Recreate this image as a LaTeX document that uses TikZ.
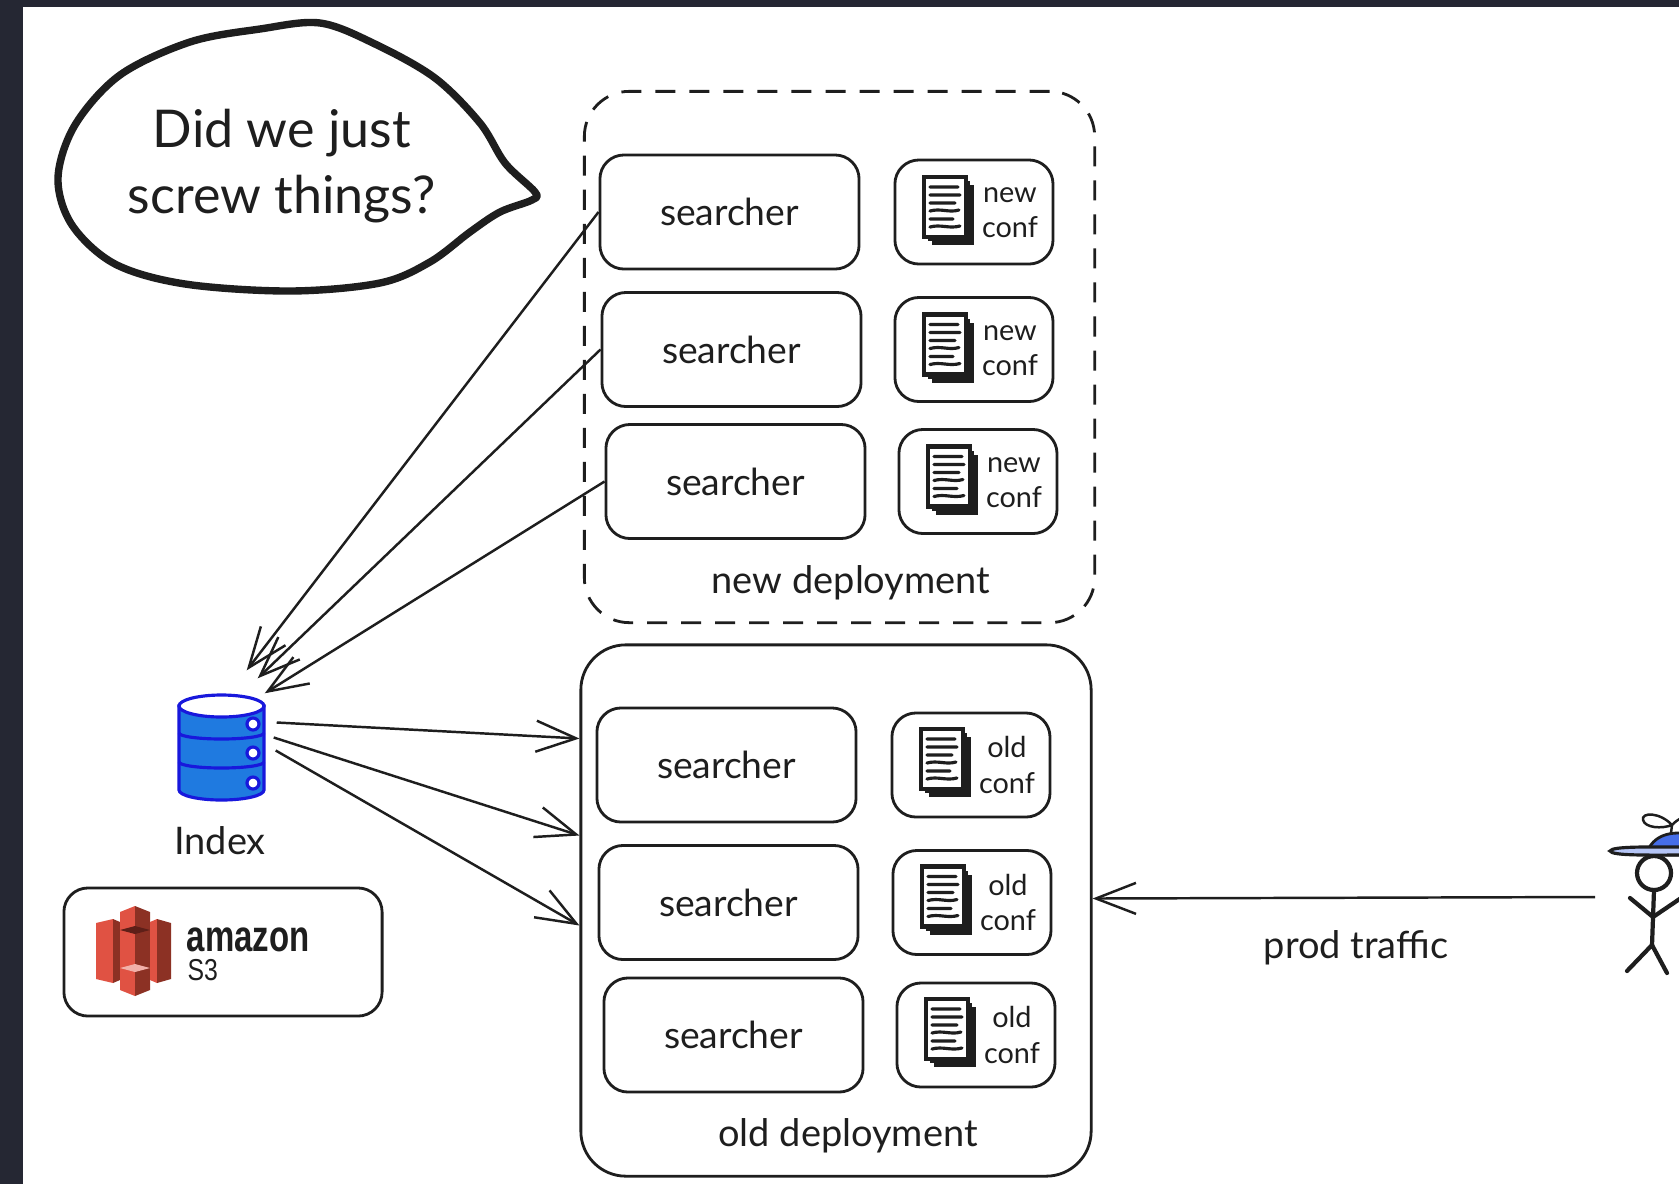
\documentclass[tikz,border=0pt]{standalone}
\usepackage{fontspec}
\setmainfont{Lato}
\newfontfamily\logofont{Liberation Sans}
\usetikzlibrary{arrows.meta}
\usetikzlibrary{positioning}
\usetikzlibrary{calc}

\definecolor{frame}{RGB}{37,39,51}
\definecolor{ink}{RGB}{30,30,30}
\definecolor{dbblue}{RGB}{31,122,224}
\definecolor{dbline}{RGB}{24,24,220}
\definecolor{capblue}{RGB}{70,110,232}
\definecolor{sthreelight}{RGB}{224,82,67}
\definecolor{sthreedark}{RGB}{140,49,36}
\definecolor{sthreetop}{RGB}{94,31,24}
\definecolor{sthreepink}{RGB}{242,176,169}

\tikzset{
  confdoc/.pic={
    \fill[ink] (-17,-25) rectangle (25,35);
    \fill[ink] (-21,-29) rectangle (21,31);
    \filldraw[fill=white, draw=ink, line width=1.2pt] (-25,-33) rectangle (17,27);
    \draw[ink, line width=0.9pt, line cap=round]
      (-19,-23) -- (9,-23) (-19,-15) -- (11,-15) (-19,-7) -- (6,-7)
      (-19,1) .. controls (-8,-2) and (0,3) .. (10,0) (-19,9) -- (4,9)
      (-19,17) .. controls (-8,14) and (0,19) .. (11,16);
  }
}

\begin{document}
\begin{tikzpicture}
  [x=0.01cm, y=-0.01cm, color=ink,
  searcher/.style={draw, line width=0.8pt, rounded corners=2.4mm,
         minimum width=25.9mm, minimum height=11.4mm, inner sep=0pt,
         font=\fontsize{10.6}{13}\selectfont},
  confbox/.style={draw, line width=0.8pt, rounded corners=2.4mm,
         minimum width=15.8mm, minimum height=10.4mm, inner sep=0pt},
  conftext/.style={align=center, inner sep=0pt, font=\fontsize{8.2}{10}\selectfont},
  deploy/.style={draw, line width=0.8pt, rounded corners=4.5mm,
         minimum width=51mm, minimum height=53.1mm, inner sep=0pt},
  deplabel/.style={inner sep=0pt, font=\fontsize{10.8}{13}\selectfont},
  flow/.style={->, line width=0.7pt},
  >={Straight Barb[length=4mm, width=3.1mm]}
  ]
  \clip (0,0) rectangle (1679,1184);
  \fill[frame] (0,0) rectangle (1679,1184);
  \fill[white] (23,7) rectangle (1679,1184);

  \draw[line width=2.1pt, line join=round]
    plot[smooth cycle, tension=0.55] coordinates {
      (535,192) (505,163) (480,123) (435,78) (375,44) (320,23) (260,29)
      (190,42) (120,75) (75,125) (58,178) (72,225) (115,264) (185,284)
      (290,291) (380,283) (430,262) (470,232) (500,212) (532,200)};
  \node (thought) [align=center, font=\fontsize{14.8}{19}\selectfont] at (282,166)
    {Did we just\\screw things?};

  \node (newdep) [deploy, dash pattern=on 2mm off 1.4mm] at (839.5,357) {};
  \node (olddep) [deploy] at (836,910.5) {};
  \node (newlbl) [deplabel] at (851,583) {new deployment};
  \node (oldlbl) [deplabel] at (848,1136) {old deployment};

  \path
    (729.5,212) node (ns1) [searcher] {searcher}
   ++(2,137.5)  node (ns2) [searcher] {searcher}
   ++(4,132)    node (ns3) [searcher] {searcher};
  \path
    (726.5,765) node (os1) [searcher] {searcher}
   ++(2,137.5)  node (os2) [searcher] {searcher}
   ++(5,132.5)  node (os3) [searcher] {searcher};

  \node (nc1) [confbox, right=3.3mm of ns1] {};
  \node (nc2) [confbox, right=3.1mm of ns2] {};
  \node (nc3) [confbox, right=3.1mm of ns3] {};
  \node (oc1) [confbox, right=3.3mm of os1] {};
  \node (oc2) [confbox, right=3.2mm of os2] {};
  \node (oc3) [confbox, right=3.1mm of os3] {};

  \pic at ($(nc1)+(-25,-2)$) {confdoc};
  \pic at ($(nc2)+(-25,-2)$) {confdoc};
  \pic at ($(nc3)+(-25,-2)$) {confdoc};
  \pic at ($(oc1)+(-25,-3)$) {confdoc};
  \pic at ($(oc2)+(-25,-3)$) {confdoc};
  \pic at ($(oc3)+(-25,-3)$) {confdoc};
  \node (nc1t) [conftext] at ($(nc1)+(36,1)$) {new\\conf};
  \node (nc2t) [conftext] at ($(nc2)+(36,1)$) {new\\conf};
  \node (nc3t) [conftext] at ($(nc3)+(36,1)$) {new\\conf};
  \node (oc1t) [conftext] at ($(oc1)+(36,0)$) {old\\conf};
  \node (oc2t) [conftext] at ($(oc2)+(36,0)$) {old\\conf};
  \node (oc3t) [conftext] at ($(oc3)+(36,0)$) {old\\conf};

  \node (db) [inner sep=0pt, minimum width=8.5mm, minimum height=10.7mm] at (221.5,747.5) {};
  \begin{scope}[draw=dbline, line width=0.9pt]
  \filldraw[fill=dbblue] (179,706) -- (179,790)
    arc[start angle=180, end angle=0, x radius=42.5, y radius=10] -- (264,706) -- cycle;
  \filldraw[fill=white] (221.5,706) ellipse[x radius=42.5, y radius=11];
  \draw (179,733) arc[start angle=180, end angle=0, x radius=42.5, y radius=6];
  \draw (179,762) arc[start angle=180, end angle=0, x radius=42.5, y radius=6];
  \filldraw[fill=white] (253,724) circle[radius=6];
  \filldraw[fill=white] (253,753) circle[radius=6];
  \filldraw[fill=white] (253,783) circle[radius=6];
  \end{scope}
  \node (index) [deplabel] at (220,841) {Index};

  \node (s3) [confbox, minimum width=31.8mm, minimum height=12.8mm] at (223,952) {};
  \fill[sthreelight] (96,923) -- (113,919) -- (113,983) -- (96,979) -- cycle;
  \fill[sthreedark] (113,919) -- (120,922) -- (120,980) -- (113,983) -- cycle;
  \fill[sthreelight] (120,912) -- (135,906) -- (135,996) -- (120,990) -- cycle;
  \fill[sthreedark] (135,906) -- (150,912) -- (150,990) -- (135,996) -- cycle;
  \fill[sthreetop] (120,930) -- (135,926) -- (150,930) -- (135,934) -- cycle;
  \fill[sthreepink] (120,968) -- (135,964) -- (150,968) -- (135,972) -- cycle;
  \fill[sthreelight] (150,922) -- (157,919) -- (157,983) -- (150,980) -- cycle;
  \fill[sthreedark] (157,919) -- (171,923) -- (171,979) -- (157,983) -- cycle;
  \node (amazon) [anchor=base west, inner sep=0pt,
    font=\logofont\fontsize{12.5}{14}\selectfont\bfseries] at (186,951)
    {\scalebox{0.75}[1]{amazon}};
  \node (sthree) [anchor=base west, inner sep=0pt,
    font=\logofont\fontsize{8.6}{10}\selectfont] at (187,980)
    {\scalebox{0.82}[1]{S3}};

  \coordinate (user) at (1595,897);
  \begin{scope}[line width=1.2pt, line cap=round, line join=round]
  \draw (1654,873) circle[radius=17];
  \draw (1654,890) -- (1652,945);
  \draw (1630,898) -- (1653,917) -- (1684,896);
  \draw (1627,971) -- (1652,945) -- (1667,973);
  \end{scope}
  \filldraw[fill=capblue, line width=0.8pt]
    (1646,855) .. controls (1651,838) and (1666,830) .. (1690,834) -- (1690,855) -- cycle;
  \filldraw[fill=capblue!40, line width=0.9pt]
    (1610,851) .. controls (1612,846) and (1650,847) .. (1690,847) -- (1690,855)
    .. controls (1650,855) and (1612,856) .. (1610,851) -- cycle;
  \draw[line width=0.7pt]
    (1671,833) -- (1672,825)
    .. controls (1660,812) and (1641,812) .. (1643,820)
    .. controls (1645,828) and (1662,829) .. (1672,825)
    .. controls (1684,812) and (1700,815) .. (1700,820);

  \draw [flow] (ns1.west) -- ($(db.north east)+(-18,-23)$);
  \draw [flow] (ns2.west) -- ($(db.north east)+(-7,-15)$);
  \draw [flow] (ns3.west) -- (db.north east);
  \draw [flow] ($(db.east)+(12,-25)$) -- ($(olddep.west)+(0,-172)$);
  \draw [flow] ($(db.east)+(9,-10)$) -- ($(olddep.west)+(0,-75)$);
  \draw [flow] ($(db.east)+(11,3)$) -- ($(olddep.west)+(0,15)$);
  \draw [flow] (user) -- ($(olddep.east)+(0,-12)$);
  \node (traffic) [deplabel] at (1356,948) {prod traffic};
\end{tikzpicture}
\end{document}
